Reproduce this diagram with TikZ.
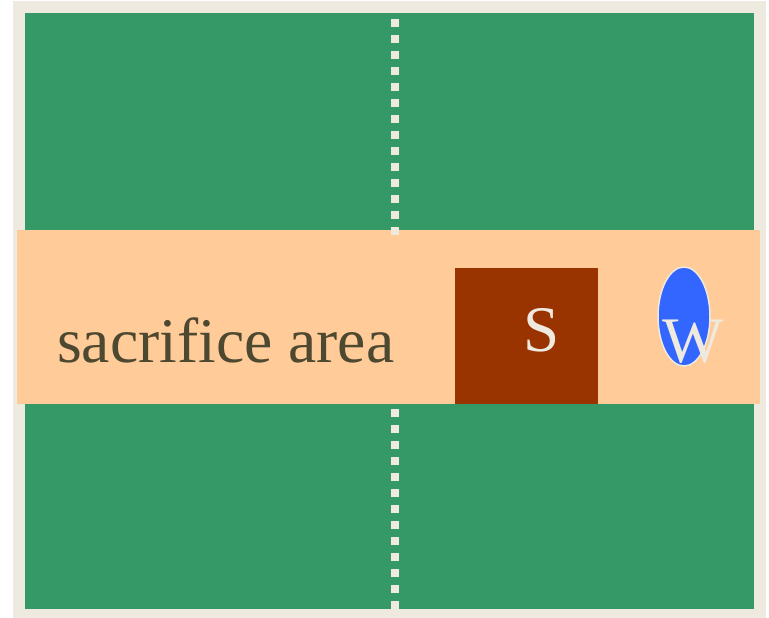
\documentclass[tikz,border=0pt]{standalone}
\usepackage{fontspec}
\setmainfont{Liberation Serif}
\definecolor{beige}{HTML}{EEEAE0}
\definecolor{fieldgreen}{HTML}{359967}
\definecolor{peach}{HTML}{FFCB99}
\definecolor{rust}{HTML}{993300}
\definecolor{wblue}{HTML}{3366FF}
\definecolor{olive}{HTML}{4D4830}
\tikzset{
  bigtext/.style={inner sep=0pt, font=\fontsize{65bp}{78bp}\selectfont},
  areatext/.style={inner sep=0pt, font=\fontsize{63.6bp}{76bp}\selectfont},
  centerline/.style={draw=beige, line width=8bp, dash pattern=on 8bp off 8bp},
}
\begin{document}
\begin{tikzpicture}[x=1bp,y=-1bp]
\useasboundingbox (0,0) rectangle (769,618);
% outer border and field
\fill[beige] (13,1) rectangle (766,618);
\fill[fieldgreen] (25,13) rectangle (754,609);
% centre line pieces
\coordinate (ctop) at (395,13);
\coordinate (cbandtop) at (395,235);
\coordinate (cbandbot) at (395,404);
\coordinate (cbot) at (395,609);
% band
\fill[peach] (17,230) rectangle (760,404);
\draw[centerline] (cbandtop) -- (ctop);
\draw[centerline] (cbot) -- (cbandbot);
% S box
\node[fill=rust, minimum width=143bp, minimum height=136bp, inner sep=0pt, anchor=north west] (sbox) at (455,268) {};
\node[bigtext, text=beige, anchor=base] (slabel) at (542,351) {S};
% W ellipse
\draw[fill=wblue, draw=beige, line width=1.5bp] (684,316.5) ellipse [x radius=26, y radius=49.5];
\coordinate (wcenter) at (684,316.5);
\node[bigtext, text=beige, anchor=base] (wlabel) at (693.5,362) {W};
% label
\node[areatext, text=olive, anchor=base west] (area) at (57,362) {sacrifice area};
\end{tikzpicture}
\end{document}
